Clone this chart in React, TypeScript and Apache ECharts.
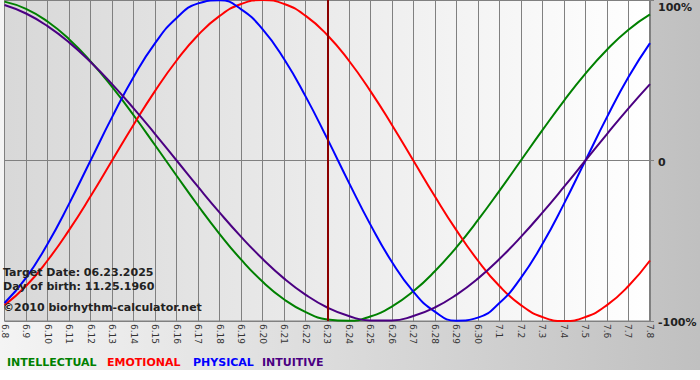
import React, { useEffect, useRef } from "react";
import * as echarts from "echarts";

const dates = [
  "6.8", "6.9", "6.10", "6.11", "6.12", "6.13", "6.14", "6.15", "6.16", "6.17",
  "6.18", "6.19", "6.20", "6.21", "6.22", "6.23", "6.24", "6.25", "6.26", "6.27",
  "6.28", "6.29", "6.30", "7.1", "7.2", "7.3", "7.4", "7.5", "7.6", "7.7", "7.8",
];

const intellectual = [
  99.0, 94.5, 86.6, 75.6, 61.8, 45.8, 28.2, 9.5, -9.5, -28.2, -45.8, -61.8, -75.6, -86.6, -94.5,
  -99.0, -99.9, -97.2, -91.0, -81.5, -69.0, -54.1, -37.2, -18.9, 0, 18.9, 37.2, 54.1, 69.0, 81.5, 91.0,
];
const emotional = [
  -90.1, -78.2, -62.3, -43.4, -22.3, 0, 22.3, 43.4, 62.3, 78.2, 90.1, 97.5, 100, 97.5, 90.1,
  78.2, 62.3, 43.4, 22.3, 0, -22.3, -43.4, -62.3, -78.2, -90.1, -97.5, -100, -97.5, -90.1, -78.2, -62.3,
];
const physical = [
  -88.8, -73.1, -52.0, -27.0, 0, 27.0, 52.0, 73.1, 88.8, 97.9, 99.8, 94.2, 81.7, 63.1, 39.8,
  13.6, -13.6, -39.8, -63.1, -81.7, -94.2, -99.8, -97.9, -88.8, -73.1, -52.0, -27.0, 0, 27.0, 52.0, 73.1,
];
const intuitive = [
  96.9, 91.6, 83.7, 73.6, 61.4, 47.6, 32.5, 16.5, 0, -16.5, -32.5, -47.6, -61.4, -73.6, -83.7,
  -91.6, -96.9, -99.7, -99.7, -96.9, -91.6, -83.7, -73.6, -61.4, -47.6, -32.5, -16.5, 0, 16.5, 32.5, 47.6,
];

const seriesNames = ["INTELLECTUAL", "EMOTIONAL", "PHYSICAL", "INTUITIVE"];
const seriesColors = ["#008000", "#ff0000", "#0000ff", "#4b0082"];
const targetDate = "6.23";
const infoLines = ["Target Date: 06.23.2025", "Day of birth: 11.25.1960", "\u00a92010 biorhythm-calculator.net"];

export default function App() {
  const ref = useRef<HTMLDivElement>(null);

  useEffect(() => {
    if (!ref.current) return;
    const chart = echarts.init(ref.current, undefined, { renderer: "svg" });
    const font = "DejaVu Sans";
    const values = [intellectual, emotional, physical, intuitive];
    const legendX = [7, 107, 193, 262];

    const series: any[] = values.map((v, i) => ({
      name: seriesNames[i],
      type: "line",
      data: v,
      smooth: true,
      showSymbol: false,
      symbol: "none",
      clip: false,
      lineStyle: { color: seriesColors[i], width: 2 },
      itemStyle: { color: seriesColors[i] },
      z: 3,
    }));
    series[0].markLine = {
      silent: true,
      symbol: ["none", "none"],
      label: { show: false },
      lineStyle: { color: "#8b0000", width: 2, type: "solid" },
      data: [{ xAxis: targetDate }],
      z: 5,
    };

    chart.setOption({
      animation: false,
      backgroundColor: new echarts.graphic.LinearGradient(0, 0, 1, 0, [
        { offset: 0, color: "#f4f4f4" },
        { offset: 1, color: "#c0c0c0" },
      ]),
      grid: {
        left: 0,
        right: 50,
        top: 0,
        bottom: 49,
        show: true,
        borderColor: "#808080",
        borderWidth: 1,
        backgroundColor: new echarts.graphic.LinearGradient(0, 0, 1, 0, [
          { offset: 0, color: "#d8d8d8" },
          { offset: 1, color: "#ffffff" },
        ]),
      },
      xAxis: {
        type: "category",
        data: dates,
        boundaryGap: false,
        axisLine: { show: true, lineStyle: { color: "#808080", width: 1 } },
        axisTick: { show: true, length: 3, lineStyle: { color: "#808080" } },
        splitLine: { show: true, lineStyle: { color: "#808080", width: 1 } },
        axisLabel: {
          interval: 0,
          rotate: -90,
          margin: 3,
          fontFamily: font,
          fontSize: 9,
          color: "#333",
        },
      },
      yAxis: {
        type: "value",
        position: "right",
        min: -100,
        max: 100,
        interval: 100,
        axisLine: { show: true, lineStyle: { color: "#808080", width: 2 } },
        axisTick: { show: true, length: 4, lineStyle: { color: "#808080" } },
        splitLine: { show: true, lineStyle: { color: "#808080", width: 1 } },
        axisLabel: {
          margin: 8,
          fontFamily: font,
          fontSize: 11,
          fontWeight: "bold",
          color: "#222",
          formatter: (v: number) =>
            v === 100 ? "{t|100%}" : v === 0 ? "{m|0}" : "{m|-100%}",
          rich: {
            t: { padding: [15, 0, 0, 0], fontFamily: font, fontSize: 11, fontWeight: "bold", color: "#222" },
            m: { padding: [3, 0, 0, 0], fontFamily: font, fontSize: 11, fontWeight: "bold", color: "#222" },
          },
        },
      },
      graphic: [
        ...infoLines.map((t, i) => ({
          type: "text",
          z: 10,
          x: 3,
          y: [272, 286, 307][i],
          style: {
            text: t,
            font: `bold 11px "${font}"`,
            fill: "#222",
            verticalAlign: "middle",
          },
        })),
        ...seriesNames.map((n, i) => ({
          type: "text",
          z: 10,
          x: legendX[i],
          y: 362,
          style: {
            text: n,
            font: `bold 11px "${font}"`,
            fill: seriesColors[i],
            verticalAlign: "middle",
          },
        })),
      ],
      series,
    });

    return () => chart.dispose();
  }, []);

  return (
    <div
      ref={ref}
      style={{ position: "absolute", left: 0, top: 0, width: 700, height: 370, background: "#fff" }}
    />
  );
}
